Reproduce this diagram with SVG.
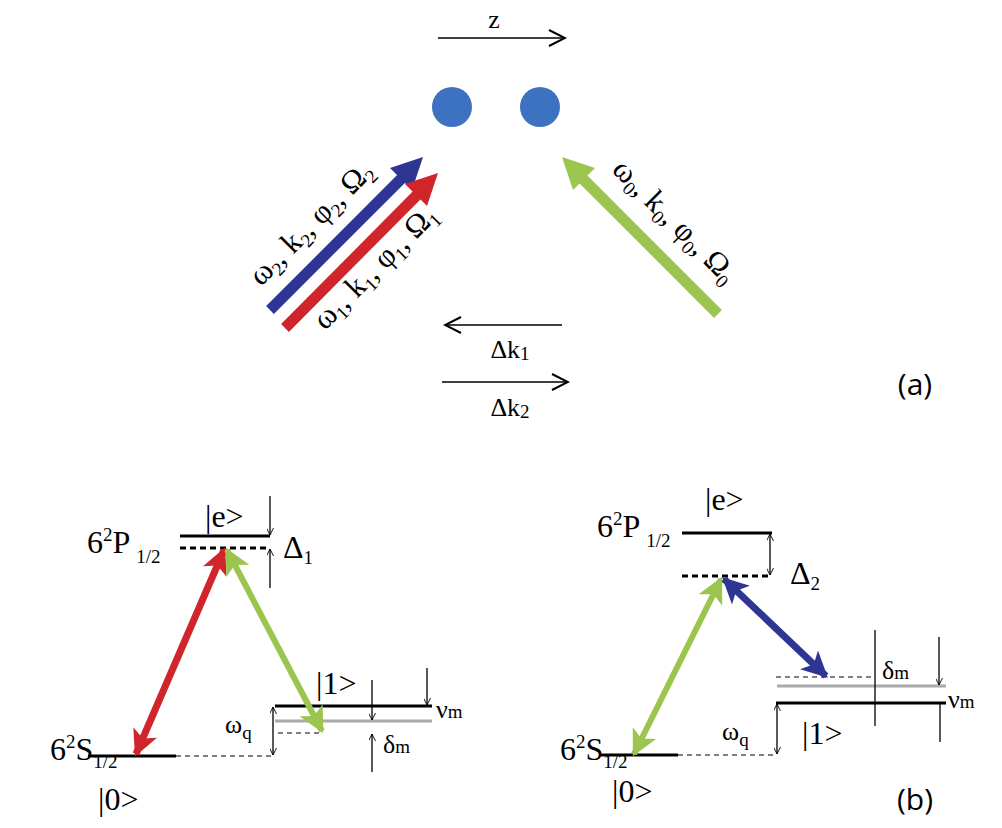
<svg xmlns="http://www.w3.org/2000/svg" width="1002" height="828" viewBox="0 0 1002 828">
<style>
.t{font-family:"Liberation Serif",serif;font-size:32px;fill:#000}
.r{font-size:31px}
.m{font-size:26px}
.s{font-size:19px}
.thin{stroke:#000;stroke-width:1.3;fill:none}
.lvl{stroke:#000;stroke-width:3;fill:none}
.gry{stroke:#aaa;stroke-width:3;fill:none}
.dsh{stroke:#000;stroke-width:1.2;stroke-dasharray:5 4;fill:none}
.dshb{stroke:#000;stroke-width:3;stroke-dasharray:6 4;fill:none}
</style>
<defs>
<marker id="oa" viewBox="0 0 20 20" refX="18" refY="10" markerWidth="20" markerHeight="20" markerUnits="userSpaceOnUse" orient="auto-start-reverse"><path d="M2,2 L18,10 L2,18" fill="none" stroke="#000" stroke-width="2"/></marker>
<marker id="sa" viewBox="0 0 10 10" refX="10" refY="5" markerWidth="7" markerHeight="7" markerUnits="userSpaceOnUse" orient="auto-start-reverse"><path d="M0,0 L10,5 L0,10" fill="none" stroke="#000" stroke-width="1.3"/></marker>
<marker id="mr" viewBox="0 0 10 10" refX="9" refY="5" markerWidth="26" markerHeight="26" markerUnits="userSpaceOnUse" orient="auto-start-reverse"><path d="M0,0 L10,5 L0,10 L2.5,5Z" fill="#d0262b"/></marker>
<marker id="mg" viewBox="0 0 10 10" refX="9" refY="5" markerWidth="26" markerHeight="26" markerUnits="userSpaceOnUse" orient="auto-start-reverse"><path d="M0,0 L10,5 L0,10 L2.5,5Z" fill="#9bc54e"/></marker>
<marker id="mb" viewBox="0 0 10 10" refX="9" refY="5" markerWidth="26" markerHeight="26" markerUnits="userSpaceOnUse" orient="auto-start-reverse"><path d="M0,0 L10,5 L0,10 L2.5,5Z" fill="#2e3592"/></marker>
</defs>
<rect width="1002" height="828" fill="#fff"/>
<g id="panel-a">
<text class="t m" x="494" y="28" text-anchor="middle">z</text>
<circle id="ion1" cx="452" cy="107" r="20" fill="#3d72c0"/>
<circle id="ion2" cx="540" cy="107" r="20" fill="#3d72c0"/>
<text class="t r" x="318" y="230" text-anchor="middle" transform="rotate(-45 318 230)">ω<tspan class="s" dy="6">2</tspan><tspan dy="-6">, k</tspan><tspan class="s" dy="6">2</tspan><tspan dy="-6">, φ</tspan><tspan class="s" dy="6">2</tspan><tspan dy="-6">, Ω</tspan><tspan class="s" dy="6">2</tspan></text>
<text class="t r" x="382" y="274" text-anchor="middle" transform="rotate(-45 382 274)">ω<tspan class="s" dy="6">1</tspan><tspan dy="-6">, k</tspan><tspan class="s" dy="6">1</tspan><tspan dy="-6">, φ</tspan><tspan class="s" dy="6">1</tspan><tspan dy="-6">, Ω</tspan><tspan class="s" dy="6">1</tspan></text>
<text class="t r" x="668" y="228" text-anchor="middle" transform="rotate(45 668 228)">ω<tspan class="s" dy="6">0</tspan><tspan dy="-6">, k</tspan><tspan class="s" dy="6">0</tspan><tspan dy="-6">, φ</tspan><tspan class="s" dy="6">0</tspan><tspan dy="-6">, Ω</tspan><tspan class="s" dy="6">0</tspan></text>
<text class="t m" x="510" y="358" text-anchor="middle">Δk<tspan class="s" dy="2">1</tspan></text>
<text class="t m" x="510" y="416" text-anchor="middle">Δk<tspan class="s" dy="2">2</tspan></text>
<text x="915" y="395" text-anchor="middle" font-family="Open Sans, sans-serif" font-size="30">(a)</text>
</g>
<g id="panel-b-left">
<text class="t" x="87" y="553">6<tspan class="s" dy="-12">2</tspan><tspan dy="12">P</tspan><tspan class="s" dy="10" dx="6">1/2</tspan></text>
<text class="t" x="205" y="527">|e&gt;</text>
<text class="t" x="283" y="558">Δ<tspan class="s" dy="6">1</tspan></text>
<text class="t" x="50" y="760">6<tspan class="s" dy="-12">2</tspan><tspan dy="12">S</tspan><tspan class="s" dy="8">1/2</tspan></text>
<text class="t" x="98" y="810">|0&gt;</text>
<text class="t m" x="225" y="733">ω<tspan class="s" dy="6">q</tspan></text>
<text class="t" x="316" y="694">|1&gt;</text>
<text class="t m" x="383" y="753">δ<tspan class="s">m</tspan></text>
<text class="t m" x="436" y="718">ν<tspan class="s">m</tspan></text>
</g>
<g id="panel-b-right">
<text class="t" x="597" y="537">6<tspan class="s" dy="-12">2</tspan><tspan dy="12">P</tspan><tspan class="s" dy="10" dx="6">1/2</tspan></text>
<text class="t" x="705" y="510">|e&gt;</text>
<text class="t" x="790" y="584">Δ<tspan class="s" dy="6">2</tspan></text>
<text class="t" x="560" y="760">6<tspan class="s" dy="-12">2</tspan><tspan dy="12">S</tspan><tspan class="s" dy="8">1/2</tspan></text>
<text class="t" x="612" y="802">|0&gt;</text>
<text class="t m" x="722" y="740">ω<tspan class="s" dy="6">q</tspan></text>
<text class="t" x="802" y="744">|1&gt;</text>
<text class="t m" x="882" y="679">δ<tspan class="s">m</tspan></text>
<text class="t m" x="948" y="708">ν<tspan class="s">m</tspan></text>
<text x="915" y="810" text-anchor="middle" font-family="Open Sans, sans-serif" font-size="30">(b)</text>
</g>
<g id="levels">
<line class="lvl" x1="180" y1="536" x2="270" y2="536"/>
<line class="dshb" x1="180" y1="548" x2="270" y2="548"/>
<line class="lvl" x1="88" y1="756" x2="176" y2="756"/>
<line class="dsh" x1="176" y1="756" x2="272" y2="756"/>
<line class="lvl" x1="275" y1="706" x2="432" y2="706"/>
<line class="gry" x1="275" y1="721" x2="432" y2="721"/>
<line class="dsh" x1="278" y1="733" x2="322" y2="733"/>
<line class="lvl" x1="682" y1="533" x2="772" y2="533"/>
<line class="dshb" x1="682" y1="576" x2="770" y2="576"/>
<line class="lvl" x1="600" y1="755" x2="678" y2="755"/>
<line class="dsh" x1="678" y1="755" x2="776" y2="755"/>
<line class="lvl" x1="776" y1="703" x2="946" y2="703"/>
<line class="gry" x1="777" y1="686" x2="946" y2="686"/>
<line class="dsh" x1="776" y1="677" x2="875" y2="677"/>
</g>
<g id="connectors">
<line class="thin" x1="438" y1="38" x2="565" y2="38" stroke-width="2" marker-end="url(#oa)"/>
<line class="thin" x1="562" y1="325" x2="445" y2="325" stroke-width="2" marker-end="url(#oa)"/>
<line class="thin" x1="442" y1="382" x2="568" y2="382" stroke-width="2" marker-end="url(#oa)"/>
<line x1="270" y1="310" x2="410" y2="170" stroke="#2e3592" stroke-width="11"/>
<path d="M423,157 L390,168 L412,190Z" fill="#2e3592"/>
<line x1="285" y1="328" x2="425" y2="187" stroke="#d0262b" stroke-width="11"/>
<path d="M438,173 L405,184 L427,206Z" fill="#d0262b"/>
<line x1="718" y1="314" x2="575" y2="171" stroke="#9bc54e" stroke-width="11"/>
<path d="M562,157 L573,190 L595,168Z" fill="#9bc54e"/>
<line x1="136" y1="754" x2="224" y2="550" stroke="#d0262b" stroke-width="7" marker-start="url(#mr)" marker-end="url(#mr)"/>
<line x1="227" y1="550" x2="322" y2="731" stroke="#9bc54e" stroke-width="6" marker-start="url(#mg)" marker-end="url(#mg)"/>
<line x1="634" y1="754" x2="721" y2="579" stroke="#9bc54e" stroke-width="6" marker-start="url(#mg)" marker-end="url(#mg)"/>
<line x1="724" y1="579" x2="826" y2="676" stroke="#2e3592" stroke-width="7" marker-start="url(#mb)" marker-end="url(#mb)"/>
<line class="thin" x1="270" y1="496" x2="270" y2="535" marker-end="url(#sa)"/>
<line class="thin" x1="270" y1="588" x2="270" y2="549" marker-end="url(#sa)"/>
<line class="thin" x1="273" y1="707" x2="273" y2="755" marker-start="url(#sa)" marker-end="url(#sa)"/>
<line class="thin" x1="372" y1="680" x2="372" y2="720" marker-end="url(#sa)"/>
<line class="thin" x1="372" y1="772" x2="372" y2="734" marker-end="url(#sa)"/>
<line class="thin" x1="427" y1="668" x2="427" y2="705" marker-end="url(#sa)"/>
<line class="thin" x1="770" y1="534" x2="770" y2="575" marker-start="url(#sa)" marker-end="url(#sa)"/>
<line class="thin" x1="777" y1="704" x2="777" y2="754" marker-start="url(#sa)" marker-end="url(#sa)"/>
<line class="thin" x1="875" y1="630" x2="875" y2="726"/>
<line class="thin" x1="940" y1="704" x2="940" y2="742"/>
<line class="thin" x1="939" y1="637" x2="939" y2="685" marker-end="url(#sa)"/>
</g>
</svg>
